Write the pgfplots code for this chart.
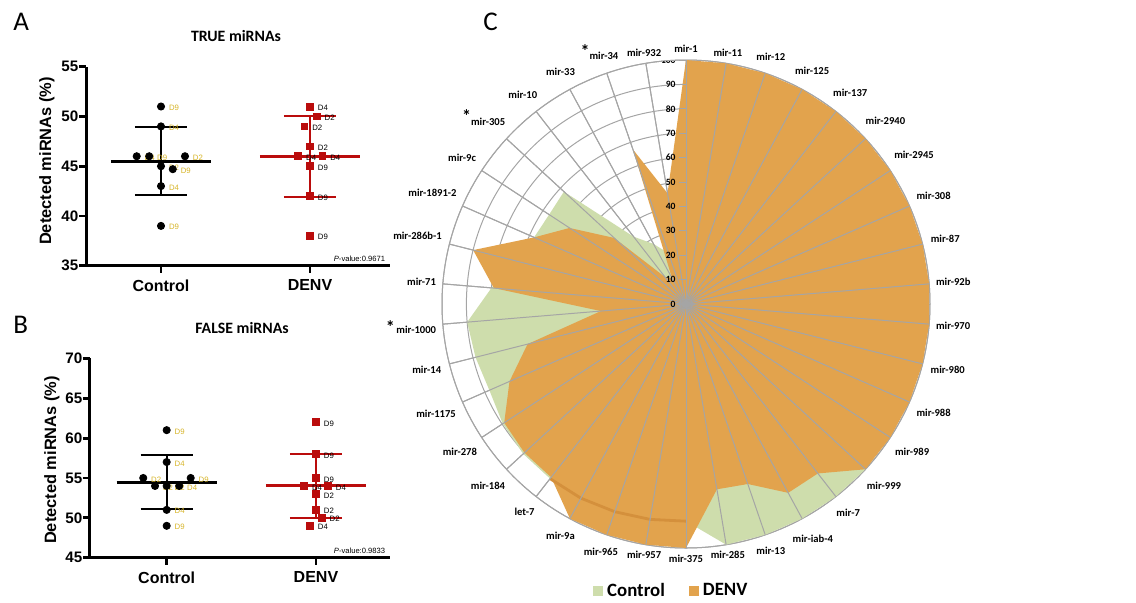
\documentclass[border=0pt]{standalone}
\usepackage{fontspec}
\setmainfont{Liberation Sans}
\newfontfamily\carlito{Carlito}
\usepackage{pgfplots}
\usepackage{pgfplotstable}
\usepgfplotslibrary{polar}
\pgfplotsset{compat=1.18}
\definecolor{dgold}{RGB}{214,180,40}
\definecolor{dred}{RGB}{186,12,12}
\definecolor{cgreen}{RGB}{206,221,172}
\definecolor{corange}{RGB}{226,163,77}
\definecolor{cband}{RGB}{212,144,60}
\definecolor{gridgray}{RGB}{165,165,165}

\pgfplotstableread{
x y lab
1 51 D9
1 49 D4
0.837 46 D4
0.921 46 D9
1.161 46 D2
1 45 D2
1.079 44.7 D9
1 43 D4
1 39 D9
}\AControl
\pgfplotstableread{
x y lab
2 51 D4
2.045 50 D2
1.962 49 D2
2 47 D2
1.921 46 D4
2.083 46 D4
2 45 D9
2 42 D9
2 38 D9
}\ADenv
\pgfplotstableread{
x y lab
1 61 D9
1 57 D4
0.843 55 D2
1.161 55 D9
0.922 54 D2
1 54 D2
1.084 54 D4
1 51 D4
1 49 D9
}\BControl
\pgfplotstableread{
x y lab
2 62 D9
2 58 D9
2 55 D9
1.920 54 D4
2.080 54 D4
2 53 D2
2 51 D2
2.038 50 D2
1.960 49 D4
}\BDenv

% radar: i = category index (clockwise from top), values in %
\pgfplotstableread{
i ctrl denv
0 10 100
1 96 100
2 96 100
3 96 100
4 96 100
5 96 100
6 96 100
7 96 100
8 96 100
9 96 100
10 96 100
11 96 100
12 96 100
13 96 100
14 100 100
15 100 88
16 100 88
17 100 78
18 100 77
19 89 100
20 89.5 100
21 90 100
22 90.5 100
23 90.7 90
24 90.7 90
25 89.7 89
26 88 79
27 89 67
28 90 35
29 80 79
30 72 90
31 68 68
32 67 57
33 68 40
34 35 14
35 28 12
36 22 67
37 15 46
38 10 100
}\radar

\pgfplotsset{
  dotplot/.style={
    scale only axis, clip=false,
    axis lines=left, axis line style={line width=1.5pt,-},
    x axis line style={-}, y axis line style={-},
    xtick={1,2}, xticklabels={Control,DENV},
    tick style={line width=1.4pt,black}, major tick length=3.5pt,
    tick align=outside,
    xticklabel style={font=\fontsize{8}{8}\selectfont\bfseries},
    yticklabel style={font=\fontsize{7.6}{7.6}\selectfont\bfseries, xshift=3.2pt},
    /pgf/number format/assume math mode=true,
  },
  pts/.style={only marks, nodes near coords, point meta=explicit symbolic,
    nodes near coords style={anchor=west, inner sep=0pt, xshift=3.8pt, yshift=-0.7pt,
      font=\fontsize{3.9}{4}\selectfont}},
}

\begin{document}
\begin{tikzpicture}
\useasboundingbox (0,0) rectangle (568pt,301pt);

% ---------------- Panel A
\begin{axis}[dotplot, at={(43pt,168.15pt)}, anchor=south west,
  width=152pt, height=99.5pt,
  xmin=0.4966, xmax=2.537, ymin=35, ymax=55, ytick={35,40,...,55}]
\addplot[pts, mark=*, mark size=1.8pt, black, nodes near coords style={text=dgold}] table[x=x,y=y,meta=lab] {\AControl};
\addplot[pts, mark=square*, mark size=1.7pt, dred, nodes near coords style={text=black}] table[x=x,y=y,meta=lab] {\ADenv};
\addplot[black, line width=1.5pt] coordinates {(0.664,45.52) (1.336,45.52)};
\addplot[black, line width=1pt] coordinates {(1,42.12) (1,48.92)};
\addplot[black, line width=1pt] coordinates {(0.825,48.92) (1.175,48.92)};
\addplot[black, line width=1pt] coordinates {(0.825,42.12) (1.175,42.12)};
\addplot[dred, line width=1.5pt] coordinates {(1.664,46) (2.336,46)};
\addplot[dred, line width=1pt] coordinates {(2,41.94) (2,50.06)};
\addplot[dred, line width=1pt] coordinates {(1.825,50.06) (2.175,50.06)};
\addplot[dred, line width=1pt] coordinates {(1.825,41.94) (2.175,41.94)};
\node[anchor=south east, inner sep=0pt, font=\fontsize{3.8}{4}\selectfont] at (rel axis cs:0.985,0.02) {\textit{P}-value:0.9671};
\end{axis}

% ---------------- Panel B
\begin{axis}[dotplot, at={(45pt,22.15pt)}, anchor=south west,
  width=150pt, height=99.65pt,
  xmin=0.4863, xmax=2.496, ymin=45, ymax=70, ytick={45,50,...,70}]
\addplot[pts, mark=*, mark size=1.8pt, black, nodes near coords style={text=dgold}] table[x=x,y=y,meta=lab] {\BControl};
\addplot[pts, mark=square*, mark size=1.7pt, dred, nodes near coords style={text=black}] table[x=x,y=y,meta=lab] {\BDenv};
\addplot[black, line width=1.5pt] coordinates {(0.664,54.44) (1.336,54.44)};
\addplot[black, line width=1pt] coordinates {(1,51.05) (1,57.84)};
\addplot[black, line width=1pt] coordinates {(0.825,57.84) (1.175,57.84)};
\addplot[black, line width=1pt] coordinates {(0.825,51.05) (1.175,51.05)};
\addplot[dred, line width=1.5pt] coordinates {(1.664,54) (2.336,54)};
\addplot[dred, line width=1pt] coordinates {(2,49.94) (2,58.06)};
\addplot[dred, line width=1pt] coordinates {(1.825,58.06) (2.175,58.06)};
\addplot[dred, line width=1pt] coordinates {(1.825,49.94) (2.175,49.94)};
\node[anchor=south east, inner sep=0pt, font=\fontsize{3.8}{4}\selectfont] at (rel axis cs:0.985,0.02) {\textit{P}-value:0.9833};
\end{axis}

% ---------------- Panel C (radar)
\begin{polaraxis}[at={(343pt,149pt)}, anchor=origin,
  scale only axis, width=244pt, height=244pt,
  ymin=0, ymax=100, ytick={0,10,...,100}, yticklabels={},
  xtick={90,80.5263,71.0526,61.5789,52.1053,42.6316,33.1579,23.6842,14.2105,4.7368,
    355.2632,345.7895,336.3158,326.8421,317.3684,307.8947,298.4211,288.9474,279.4737,270,
    260.5263,251.0526,241.5789,232.1053,222.6316,213.1579,203.6842,194.2105,184.7368,175.2632,
    165.7895,156.3158,146.8421,137.3684,127.8947,118.4211,108.9474,99.4737},
  xticklabels={mir-1,mir-11,mir-12,mir-125,mir-137,mir-2940,mir-2945,mir-308,mir-87,mir-92b,
    mir-970,mir-980,mir-988,mir-989,mir-999,mir-7,mir-iab-4,mir-13,mir-285,mir-375,
    mir-957,mir-965,mir-9a,let-7,mir-184,mir-278,mir-1175,mir-14,
    {{\fontsize{9}{9}\selectfont*}\,mir-1000},mir-71,mir-286b-1,mir-1891-2,mir-9c,
    {\raisebox{0.5ex}{\fontsize{9}{9}\selectfont*}mir-305},mir-10,mir-33,
    {\raisebox{0.5ex}{\fontsize{9}{9}\selectfont*}mir-34},mir-932},
  xticklabel style={font=\carlito\bfseries\fontsize{5.3}{6}\selectfont},
  xmajorgrids=true, ymajorgrids=true,
  major grid style={gridgray, line width=0.5pt},
  axis line style={gridgray, line width=0.5pt},
  tick style={draw=none},
  legend columns=2,
  legend style={at={(0.472,-0.088)}, anchor=center, draw=none, fill=none,
    font=\carlito\bfseries\fontsize{9.4}{10}\selectfont,
    /tikz/every even column/.append style={column sep=10pt}},
  legend image code/.code={\fill[#1] (0pt,-2.6pt) rectangle (5pt,2.4pt);},
]
\addplot[fill=cgreen, draw=none] table[x expr={mod(450-\thisrow{i}*360/38,360)}, y=ctrl] {\radar};
\addlegendentry{Control}
\addplot[fill=corange, draw=none] table[x expr={mod(450-\thisrow{i}*360/38,360)}, y=denv] {\radar};
\addlegendentry{DENV}
\addplot[cband, line width=1.4pt, forget plot] coordinates {(232.1053,90.7) (241.5789,90.5) (251.0526,90) (260.5263,89.5) (270,89)};
\pgfplotsinvokeforeach{90,80.5263,71.0526,61.5789,52.1053,42.6316,33.1579,23.6842,14.2105,4.7368,
    355.2632,345.7895,336.3158,326.8421,317.3684,307.8947,298.4211,288.9474,279.4737,270,
    260.5263,251.0526,241.5789,232.1053,222.6316,213.1579,203.6842,194.2105,184.7368,175.2632,
    165.7895,156.3158,146.8421,137.3684,127.8947,118.4211,108.9474,99.4737}{
  \draw[gridgray, line width=0.5pt] (axis cs:#1,0) -- (axis cs:#1,100);
}
\pgfplotsinvokeforeach{0,10,...,100}{
  \draw[gridgray, line width=0.5pt] (axis cs:90,#1) -- ++(-3.5pt,0pt);
  \node[anchor=east, inner sep=0pt, xshift=-5pt, font=\carlito\bfseries\fontsize{4.8}{5}\selectfont] at (axis cs:90,#1) {#1};
}
\end{polaraxis}

% ---------------- Titles and panel letters
\node[anchor=base west, inner sep=0pt, font=\carlito\fontsize{13.5}{14}\selectfont] at (6.5pt,286pt) {A};
\node[anchor=base west, inner sep=0pt, font=\carlito\fontsize{13.5}{14}\selectfont] at (6.5pt,134.5pt) {B};
\node[anchor=base west, inner sep=0pt, font=\carlito\fontsize{13.5}{14}\selectfont] at (241.5pt,286pt) {C};
\node[anchor=base, inner sep=0pt, font=\carlito\bfseries\fontsize{7.9}{8}\selectfont] at (118pt,280.2pt) {TRUE miRNAs};
\node[anchor=base, inner sep=0pt, font=\carlito\bfseries\fontsize{7.9}{8}\selectfont] at (121pt,134.3pt) {FALSE miRNAs};
\node[rotate=90, inner sep=0pt, font=\bfseries\fontsize{8.2}{9}\selectfont] at (23.5pt,220.5pt) {Detected miRNAs (\%)};
\node[rotate=90, inner sep=0pt, font=\bfseries\fontsize{8.2}{9}\selectfont] at (26pt,71pt) {Detected miRNAs (\%)};
\end{tikzpicture}
\end{document}
